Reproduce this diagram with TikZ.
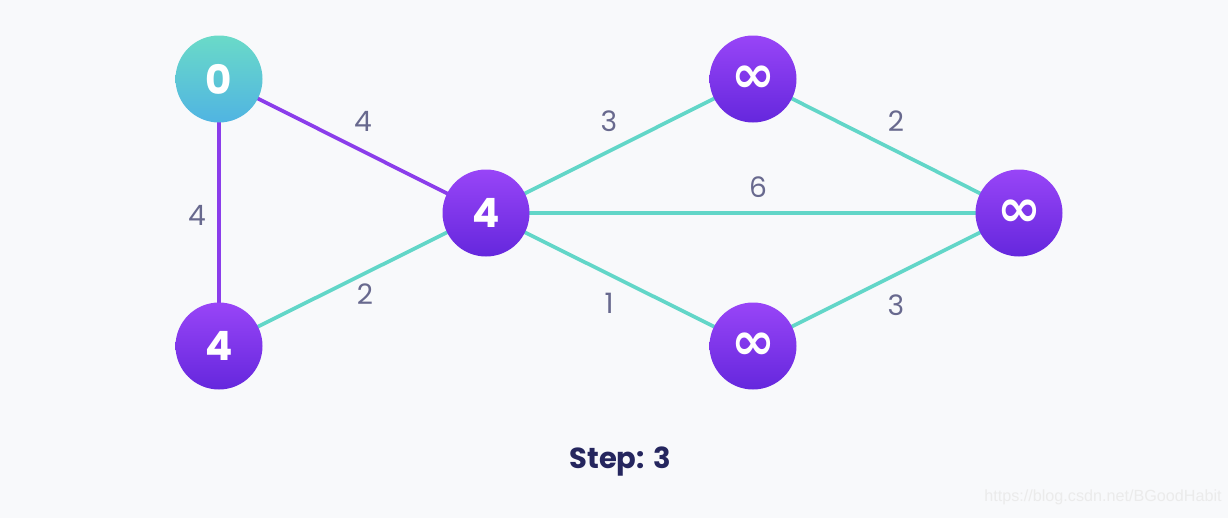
\documentclass[tikz,border=0pt]{standalone}
\usepackage{fontspec}
\setmainfont{Poppins}
\newfontfamily\simbolo{DejaVu Sans}
\newfontfamily\marcaAgua{Liberation Sans}
\usetikzlibrary{backgrounds}
\definecolor{fondo}{HTML}{F8F9FB}
\definecolor{tealArriba}{HTML}{6ADAC8}
\definecolor{tealAbajo}{HTML}{50B4E2}
\definecolor{moradoArriba}{HTML}{9845F7}
\definecolor{moradoAbajo}{HTML}{6527DD}
\definecolor{aristaVerde}{HTML}{62D6C8}
\definecolor{aristaMorada}{HTML}{8B3DEB}
\definecolor{etiqueta}{HTML}{68698E}
\definecolor{pasoTxt}{HTML}{25265E}
\newcommand{\infinito}{{\simbolo\bfseries\fontsize{30}{30}\selectfont ∞}}

\begin{document}
\begin{tikzpicture}[
  vertice/.style={circle, minimum size=1.74cm, inner sep=0pt, text=white,
    font=\fontsize{23}{23}\selectfont\bfseries, shading=axis, shading angle=0},
  visitado/.style={vertice, top color=tealArriba, bottom color=tealAbajo},
  pendiente/.style={vertice, top color=moradoArriba, bottom color=moradoAbajo},
  arista/.style={aristaVerde, line width=2.1pt},
  ruta/.style={aristaMorada, line width=2.1pt},
  peso/.style={text=etiqueta, font=\fontsize{16}{16}\selectfont}
]
  \useasboundingbox (0,0) rectangle (24.56,-10.36);

  % --- Vertices ---
  \node[visitado]  (a) at (4.38,-1.58)  {0};
  \node[pendiente] (b) at (4.38,-6.92)  {4};
  \node[pendiente] (c) at (9.72,-4.26)  {4};
  \node[pendiente] (d) at (15.06,-1.58) {\infinito};
  \node[pendiente] (e) at (20.38,-4.26) {\infinito};
  \node[pendiente] (f) at (15.06,-6.92) {\infinito};

  % --- Fondo y aristas (detras de los vertices) ---
  \begin{scope}[on background layer]
    \fill[fondo] (0,0) rectangle (24.56,-10.36);
    \draw[ruta]   (a.center) -- (c.center);
    \draw[ruta]   (a.center) -- (b.center);
    \draw[arista] (b.center) -- (c.center);
    \draw[arista] (c.center) -- (d.center);
    \draw[arista] (c.center) -- (e.center);
    \draw[arista] (c.center) -- (f.center);
    \draw[arista] (d.center) -- (e.center);
    \draw[arista] (f.center) -- (e.center);
  \end{scope}

  % --- Pesos ---
  \node[peso] (pac) at (7.26,-2.42)  {4};
  \node[peso] (pab) at (3.94,-4.30)  {4};
  \node[peso] (pbc) at (7.30,-5.88)  {2};
  \node[peso] (pcd) at (12.18,-2.42) {3};
  \node[peso] (pce) at (15.16,-3.74) {6};
  \node[peso] (pcf) at (12.18,-6.06) {1};
  \node[peso] (pde) at (17.92,-2.42) {2};
  \node[peso] (pfe) at (17.92,-6.10) {3};

  % --- Paso ---
  \node[text=pasoTxt, font=\fontsize{16.5}{16.5}\selectfont\bfseries] (paso) at (12.40,-9.24) {Step: 3};

  % --- Marca de agua ---
  \node[text=black!8, font=\marcaAgua\fontsize{9.2}{9.2}\selectfont] (url) at (22.06,-9.94) {https://blog.csdn.net/BGoodHabit};
\end{tikzpicture}
\end{document}
